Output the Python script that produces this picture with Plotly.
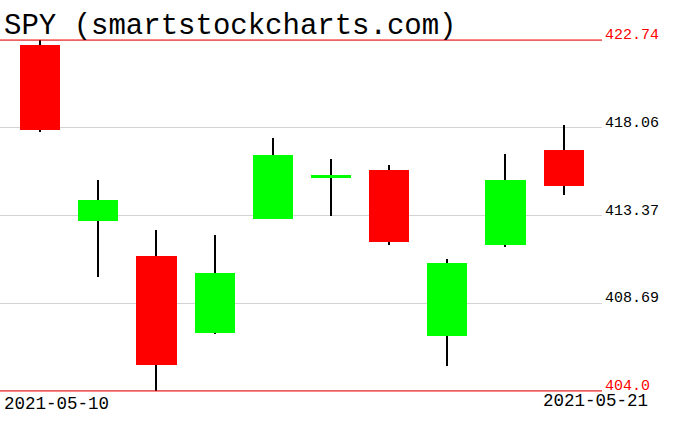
import plotly.graph_objects as go

GREEN = "#00FF00"
RED = "#FF0000"
GRID = "#D3D3D3"
FONT = "Liberation Mono"

dates = ["2021-05-10", "2021-05-11", "2021-05-12", "2021-05-13", "2021-05-14",
         "2021-05-17", "2021-05-18", "2021-05-19", "2021-05-20", "2021-05-21"]
opens = [422.50, 413.10, 411.23, 407.07, 413.21, 415.39, 415.80, 406.92, 411.80, 416.87]
highs = [422.74, 415.27, 412.59, 412.35, 417.49, 416.39, 416.06, 411.05, 416.63, 418.20]
lows = [417.81, 410.06, 404.00, 407.02, 413.18, 413.36, 411.77, 405.33, 411.67, 414.45]
closes = [417.94, 414.21, 405.41, 410.28, 416.58, 415.52, 411.94, 410.86, 415.28, 414.94]

tick_vals = [404.0, 408.69, 413.37, 418.06, 422.74]
tick_text = ["404.0", "408.69", "413.37", "418.06", "422.74"]

# bodies and wicks as overlaid bars so the wick stays black and the body has no outline
body_base = [min(o, c) for o, c in zip(opens, closes)]
body_len = [abs(c - o) for o, c in zip(opens, closes)]
body_col = [GREEN if c >= o else RED for o, c in zip(opens, closes)]
wick_len = [h - l for h, l in zip(highs, lows)]

fig = go.Figure()
fig.add_trace(go.Bar(x=dates, y=wick_len, base=lows, width=0.035,
                     marker=dict(color="black", line=dict(width=0)), hoverinfo="skip"))
fig.add_trace(go.Bar(x=dates, y=body_len, base=body_base, width=0.69,
                     marker=dict(color=body_col, line=dict(width=0))))

lo, hi = tick_vals[0], tick_vals[-1]
pad = (hi - lo) * 10 / 350

# min / max lines in red
for v in (lo, hi):
    fig.add_shape(type="line", xref="paper", x0=0, x1=1, yref="y", y0=v, y1=v,
                  line=dict(color=RED, width=1))

# price labels sit just above their line, right of the plot
for i, (v, t) in enumerate(zip(tick_vals, tick_text)):
    edge = i == 0 or i == len(tick_vals) - 1
    fig.add_annotation(text=t, xref="paper", x=1, xanchor="left", xshift=1,
                       yref="y", y=v, yanchor="bottom", yshift=-6, showarrow=False,
                       font=dict(family=FONT, size=15, color=RED if edge else "black"))

fig.add_annotation(text=dates[0], xref="paper", x=0, xanchor="left", xshift=2,
                   yref="y", y=lo, yanchor="top", yshift=-1, showarrow=False,
                   font=dict(family=FONT, size=17.5, color="black"))
fig.add_annotation(text=dates[-1], xref="paper", x=1, xanchor="right", xshift=48,
                   yref="y", y=lo, yanchor="top", yshift=2, showarrow=False,
                   font=dict(family=FONT, size=17.5, color="black"))

fig.update_layout(
    width=676, height=431,
    margin=dict(l=0, r=74, t=30, b=30),
    paper_bgcolor="white", plot_bgcolor="white",
    barmode="overlay", showlegend=False, bargap=0,
    title=dict(text="SPY (smartstockcharts.com)", x=0.006, xanchor="left",
               y=0.944, yanchor="middle", yref="container",
               font=dict(family=FONT, size=29, color="black")),
    xaxis=dict(type="category", range=[-0.69, 9.66], showticklabels=False,
               showgrid=False, zeroline=False, showline=False, ticks="",
               automargin=False),
    yaxis=dict(side="right", range=[lo - pad, hi + pad], tickvals=tick_vals,
               showticklabels=False, showgrid=True, gridcolor=GRID, gridwidth=1,
               zeroline=False, showline=False, ticks="", automargin=False),
)

fig.write_html("out.html", config={"displayModeBar": False},
               post_script="document.body.style.margin='0';")
